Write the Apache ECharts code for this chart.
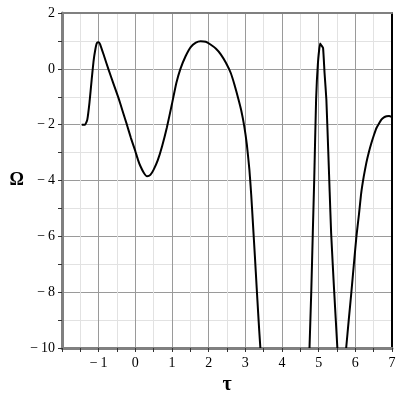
<!DOCTYPE html>
<html>
<head>
<meta charset="utf-8">
<script src="https://cdn.jsdelivr.net/npm/echarts@6/dist/echarts.min.js"></script>
<style>
    html, body { margin: 0; padding: 0; background: #fff; }
    #chart { width: 400px; height: 400px; }
</style>
</head>
<body>
<div id="chart"></div>
<script>
// curve, broken where it leaves the plot at -10
const tau = [
    -1.46, -1.37, -1.31, -1.25, -1.19, -1.14, -1.09, -1.05, -1.0, -0.96,
    -0.85, -0.73, -0.6, -0.46, -0.35, -0.23, -0.12, 0.0, 0.07, 0.14,
    0.23, 0.32, 0.41, 0.50, 0.61, 0.73, 0.86, 1.0, 1.12, 1.23,
    1.37, 1.51, 1.65, 1.78, 1.92, 2.05, 2.2, 2.33, 2.47, 2.60,
    2.70, 2.81, 2.89, 2.97, 3.04, 3.11, 3.16, 3.21, 3.26, 3.31,
    3.35, 3.38, 3.41,
    null,
    4.75, 4.80, 4.84, 4.88, 4.93, 4.98, 5.04, 5.08, 5.12, 5.16,
    5.21, 5.26, 5.30, 5.34, 5.42, 5.51,
    null,
    5.75, 5.82, 5.89, 5.96, 6.03, 6.10, 6.16, 6.23, 6.30, 6.37,
    6.44, 6.51, 6.58, 6.65, 6.71, 6.78, 6.85, 6.92, 6.99
];
const omega = [
    -2.0, -2.0, -1.82, -1.2, -0.38, 0.27, 0.7, 0.92, 0.95, 0.88,
    0.45, -0.03, -0.52, -1.04, -1.5, -2.0, -2.48, -2.95, -3.25, -3.49,
    -3.72, -3.85, -3.8, -3.61, -3.28, -2.77, -2.1, -1.25, -0.5, 0.0,
    0.45, 0.78, 0.94, 0.99, 0.97, 0.87, 0.72, 0.52, 0.22, -0.14,
    -0.55, -1.08, -1.5, -2.05, -2.7, -3.6, -4.5, -5.6, -6.7, -7.85,
    -8.75, -9.4, -10.0,
    null,
    -10.0, -7.9, -5.88, -3.9, -1.10, 0.21, 0.91, 0.83, 0.75, -0.14,
    -1.10, -2.9, -4.4, -5.88, -7.9, -10.0,
    null,
    -10.0, -9.0, -8.03, -7.0, -6.0, -5.2, -4.45, -3.85, -3.37, -2.98,
    -2.65, -2.36, -2.11, -1.95, -1.82, -1.74, -1.70, -1.69, -1.72
];

const xTicks = [-2, -1, 0, 1, 2, 3, 4, 5, 6, 7];
const yTicks = [-10, -8, -6, -4, -2, 0, 2];

const points = tau.map((t, i) => (t === null ? [null, null] : [t, omega[i]]));

// minus sign like the original, with a thin gap
const fmt = v => (v < 0 ? '\u2212\u2009' + Math.abs(v) : String(v));

const labelFont = {
    fontFamily: 'Liberation Serif',
    fontSize: 14,
    color: '#000'
};

const chart = echarts.init(document.getElementById('chart'));
chart.setOption({
    animation: false,
    grid: { left: 62, right: 8, top: 13, bottom: 52 },
    xAxis: [
        {
            type: 'value',
            min: xTicks[0],
            max: xTicks[xTicks.length - 1],
            interval: 1,
            name: 'τ',
            nameLocation: 'middle',
            nameGap: 24,
            nameTextStyle: { fontFamily: 'Liberation Serif', fontSize: 20, fontWeight: 'bold', color: '#000' },
            axisLine: { onZero: false, lineStyle: { color: '#808080', width: 3 } },
            axisTick: { show: true, length: 4, lineStyle: { color: '#333' } },
            minorTick: { show: true, splitNumber: 2, length: 4, lineStyle: { color: '#333' } },
            axisLabel: {
                ...labelFont,
                margin: 8,
                formatter: v => (v === xTicks[0] ? '' : fmt(v))
            },
            splitLine: { show: true, lineStyle: { color: '#9a9a9a', width: 1 } },
            minorSplitLine: { show: true, lineStyle: { color: '#e2e2e2', width: 1 } }
        },
        {
            type: 'value',
            position: 'top',
            min: xTicks[0],
            max: xTicks[xTicks.length - 1],
            axisLine: { show: true, onZero: false, lineStyle: { color: '#808080', width: 2 } },
            axisTick: { show: false },
            axisLabel: { show: false },
            splitLine: { show: false }
        }
    ],
    yAxis: [
        {
            type: 'value',
            min: yTicks[0],
            max: yTicks[yTicks.length - 1],
            interval: 2,
            name: 'Ω',
            nameLocation: 'middle',
            nameRotate: 0,
            nameGap: 38,
            nameTextStyle: { fontFamily: 'Liberation Serif', fontSize: 18, fontWeight: 'bold', color: '#000' },
            axisLine: { show: true, onZero: false, lineStyle: { color: '#808080', width: 3 } },
            axisTick: { show: true, length: 4, lineStyle: { color: '#333' } },
            minorTick: { show: true, splitNumber: 2, length: 4, lineStyle: { color: '#333' } },
            axisLabel: { ...labelFont, margin: 7, formatter: fmt },
            splitLine: { show: true, lineStyle: { color: '#9a9a9a', width: 1 } },
            minorSplitLine: { show: true, lineStyle: { color: '#e2e2e2', width: 1 } }
        },
        {
            type: 'value',
            position: 'right',
            min: yTicks[0],
            max: yTicks[yTicks.length - 1],
            axisLine: { show: true, onZero: false, lineStyle: { color: '#000', width: 2 } },
            axisTick: { show: false },
            axisLabel: { show: false },
            splitLine: { show: false }
        }
    ],
    series: [
        {
            type: 'line',
            data: points,
            showSymbol: false,
            connectNulls: false,
            smooth: 0.15,
            clip: true,
            lineStyle: { color: '#000', width: 2 }
        }
    ]
});
</script>
</body>
</html>
